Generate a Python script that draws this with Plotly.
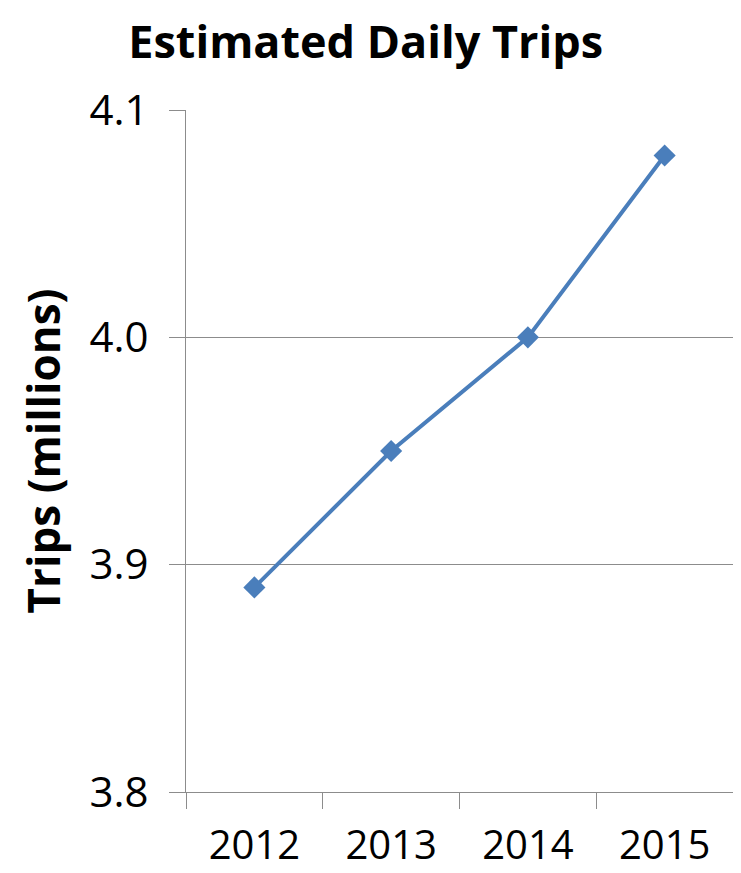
import plotly.graph_objects as go

years = ["2012", "2013", "2014", "2015"]
trips = [3.89, 3.95, 4.00, 4.08]
y_ticks = [3.8, 3.9, 4.0, 4.1]
y_tick_labels = ["3.8", "3.9", "4.0", "4.1"]

line_color = "#4a7ebb"
grid_color = "#8c8c8c"
font_family = "Open Sans, Noto Sans, sans-serif"

fig = go.Figure()
fig.add_trace(go.Scatter(
    x=years, y=trips, mode="lines+markers",
    line=dict(color=line_color, width=4),
    marker=dict(symbol="diamond", size=17, color=line_color),
    showlegend=False, hoverinfo="skip",
))

fig.update_layout(
    width=733, height=865,
    margin=dict(l=178, r=8, t=102, b=81, autoexpand=False),
    paper_bgcolor="white", plot_bgcolor="white",
    font=dict(family=font_family, color="black"),
    title=dict(text="<b>Estimated Daily Trips</b>", x=0.488, xanchor="center",
               y=0.960, yanchor="middle",
               font=dict(size=45, family=font_family, color="black")),
)

fig.update_xaxes(
    type="category", range=[-0.5, 3.5], automargin=False,
    showline=True, linecolor=grid_color, linewidth=1.3,
    ticks="outside", tickson="boundaries", ticklen=16, tickcolor=grid_color, tickwidth=1.3,
    tickfont=dict(size=40, family=font_family, color="black"),
    ticklabelstandoff=18,
    showgrid=False, zeroline=False,
)
fig.update_yaxes(
    range=[3.8, 4.1], tickvals=y_ticks, ticktext=y_tick_labels, automargin=False,
    showline=True, linecolor=grid_color, linewidth=1.3,
    ticks="outside", ticklen=16, tickcolor=grid_color, tickwidth=1.3,
    tickfont=dict(size=42, family=font_family, color="black"),
    ticklabelstandoff=12,
    showgrid=True, gridcolor=grid_color, gridwidth=1.3,
    zeroline=False,
    title=dict(text="<b>Trips (millions)</b>", standoff=14,
               font=dict(size=44, family=font_family, color="black")),
)

fig.write_html("out.html")
